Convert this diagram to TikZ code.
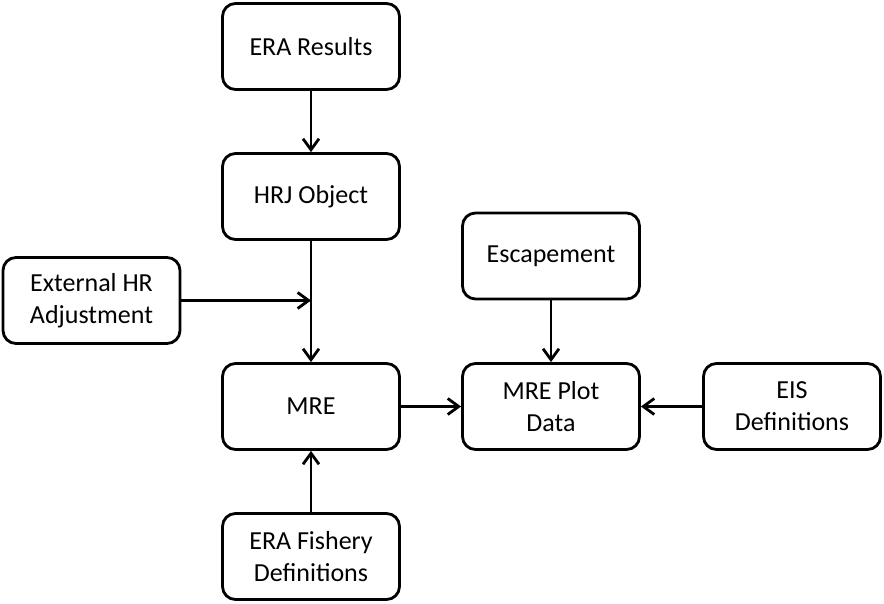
\documentclass[tikz,border=0pt]{standalone}
\usepackage{fontspec}
\setmainfont{Carlito}
\usetikzlibrary{arrows.meta}
\begin{document}
\begin{tikzpicture}[x=1pt,y=-1pt,
  box/.style={draw=black, line width=2.8pt, fill=white, rounded corners=13pt,
    minimum width=177pt, minimum height=86pt, align=center, inner sep=0pt,
    font=\fontsize{26}{32}\selectfont},
  conn/.style={line width=2.8pt, -{Straight Barb[length=11pt,width=16pt,line width=2.8pt]}}]
\useasboundingbox (0,0) rectangle (884,604);
\fill[white] (0,0) rectangle (884,604);
\node[box] (era) at (311,46.5) {ERA Results};
\node[box] (hrj) at (311,196.5) {HRJ Object};
\node[box] (ext) at (91.5,300.5) {External HR\\Adjustment};
\node[box] (esc) at (551,256) {Escapement};
\node[box] (mre) at (311,406.5) {MRE};
\node[box] (plot) at (551,406.5) {MRE Plot\\Data};
\node[box] (eis) at (792,406.5) {EIS\\Definitions};
\node[box] (fish) at (311,556.5) {ERA Fishery\\Definitions};
\coordinate (join) at (hrj.south |- ext.east);
\draw[conn] (era) -- (hrj);
\draw[conn] (hrj) -- (mre);
\draw[conn] (ext) -- (join);
\draw[conn] (esc) -- (plot);
\draw[conn] (mre) -- (plot);
\draw[conn] (eis) -- (plot);
\draw[conn] (fish) -- (mre);
\end{tikzpicture}
\end{document}
